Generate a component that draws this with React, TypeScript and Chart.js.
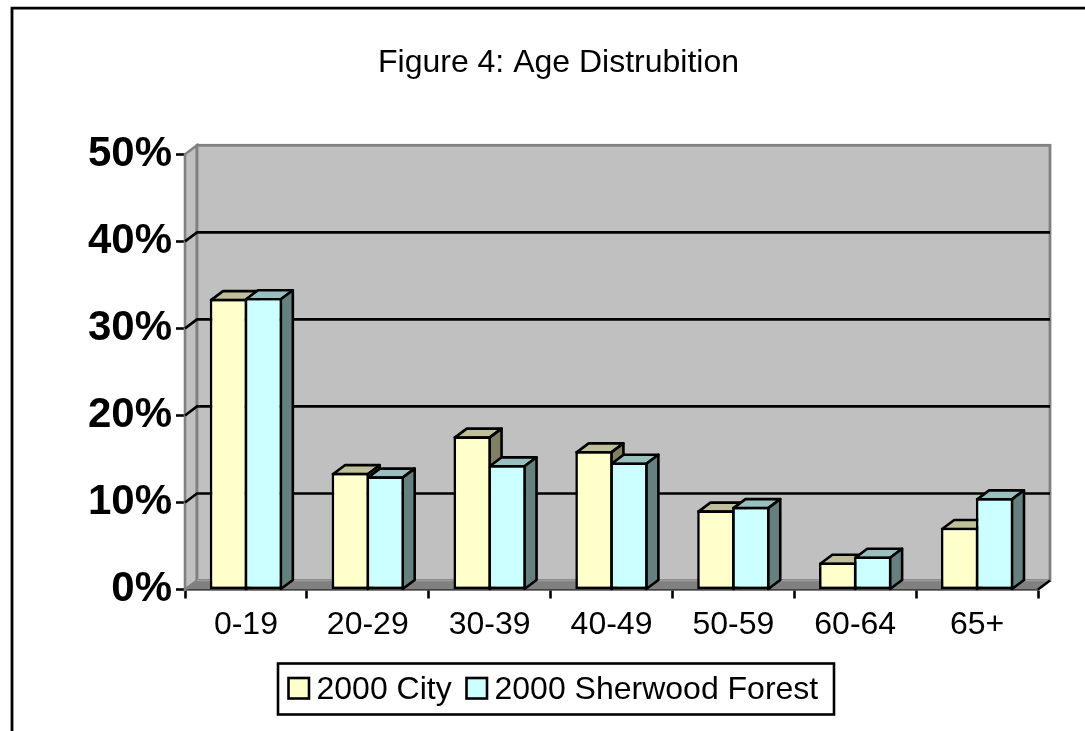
import React, { useEffect, useRef } from "react";
import { Chart, registerables } from "chart.js";

Chart.register(...registerables);

const categories = ["0-19", "20-29", "30-39", "40-49", "50-59", "60-64", "65+"];
const cityValues = [33.4, 13.4, 17.6, 15.9, 9.1, 3.1, 7.1];
const sherwoodValues = [33.5, 13.0, 14.3, 14.6, 9.5, 3.8, 10.5];
const seriesNames = ["2000 City", "2000 Sherwood Forest"];
const titleText = "Figure 4: Age Distrubition";

const FONT = '"Liberation Sans", Arial, sans-serif';
const DX = 12;
const DY = 9;
const LINE = 2.6;

const depthColors = [
  { top: "#BFBF99", side: "#808066" },
  { top: "#99BFBF", side: "#668080" },
];

const scene3d = {
  id: "scene3d",
  beforeDatasetsDraw(chart: any) {
    const { ctx, chartArea: a, scales } = chart;
    const y = scales.y;
    const zero = y.getPixelForValue(0);
    const top = y.getPixelForValue(50);
    ctx.save();
    // frame
    ctx.strokeStyle = "#000";
    ctx.lineWidth = 2.8;
    ctx.beginPath();
    ctx.moveTo(12, 731);
    ctx.lineTo(12, 8.2);
    ctx.lineTo(1085, 8.2);
    ctx.stroke();
    // side wall
    ctx.fillStyle = "#C0C0C0";
    ctx.beginPath();
    ctx.moveTo(a.left, zero);
    ctx.lineTo(a.left + DX, zero - DY);
    ctx.lineTo(a.left + DX, top - DY);
    ctx.lineTo(a.left, top);
    ctx.closePath();
    ctx.fill();
    ctx.strokeStyle = "#808080";
    ctx.lineWidth = 2.6;
    ctx.stroke();
    // back wall
    ctx.fillStyle = "#C0C0C0";
    ctx.fillRect(a.left + DX, top - DY, a.right - a.left, zero - top);
    ctx.lineWidth = 2.8;
    ctx.strokeRect(a.left + DX, top - DY, a.right - a.left, zero - top);
    // floor
    ctx.fillStyle = "#808080";
    ctx.beginPath();
    ctx.moveTo(a.left, zero);
    ctx.lineTo(a.left + DX, zero - DY);
    ctx.lineTo(a.right + DX, zero - DY);
    ctx.lineTo(a.right, zero);
    ctx.closePath();
    ctx.fill();
    // lighter seam where the back wall meets the floor
    ctx.strokeStyle = "#9C9C9C";
    ctx.lineWidth = 1.5;
    ctx.beginPath();
    ctx.moveTo(a.left + DX, zero - DY);
    ctx.lineTo(a.right + DX, zero - DY);
    ctx.stroke();
    // gridlines across back wall and side wall
    ctx.strokeStyle = "#000";
    ctx.lineWidth = LINE;
    y.ticks.forEach((t: any) => {
      if (t.value === 0 || t.value === 50) return;
      const py = y.getPixelForValue(t.value);
      ctx.beginPath();
      ctx.moveTo(a.left, py);
      ctx.lineTo(a.left + DX, py - DY);
      ctx.lineTo(a.right + DX, py - DY);
      ctx.stroke();
    });
    // floor corner edge
    ctx.beginPath();
    ctx.moveTo(a.right, zero);
    ctx.lineTo(a.right + DX, zero - DY);
    ctx.stroke();
    // bar depth faces, first series behind the second
    ctx.strokeStyle = "#000";
    ctx.lineJoin = "round";
    [0, 1].forEach((di) => {
      const meta = chart.getDatasetMeta(di);
      meta.data.forEach((bar: any) => {
        const l = bar.x - bar.width / 2 + 1.3;
        const r = bar.x + bar.width / 2 - 1.3;
        const t = bar.y + 1.3;
        const b = bar.base;
        ctx.fillStyle = depthColors[di].top;
        ctx.beginPath();
        ctx.moveTo(l, t);
        ctx.lineTo(l + DX, t - DY);
        ctx.lineTo(r + DX, t - DY);
        ctx.lineTo(r, t);
        ctx.closePath();
        ctx.fill();
        ctx.stroke();
        ctx.fillStyle = depthColors[di].side;
        ctx.beginPath();
        ctx.moveTo(r, t);
        ctx.lineTo(r + DX, t - DY);
        ctx.lineTo(r + DX, b - DY);
        ctx.lineTo(r, b);
        ctx.closePath();
        ctx.fill();
        ctx.stroke();
      });
    });
    ctx.restore();
  },
  afterDraw(chart: any) {
    const { ctx } = chart;
    ctx.save();
    // legend
    ctx.fillStyle = "#fff";
    ctx.strokeStyle = "#000";
    ctx.lineWidth = LINE;
    ctx.fillRect(278, 663.5, 556, 51);
    ctx.strokeRect(278, 663.5, 556, 51);
    ctx.font = `32px ${FONT}`;
    ctx.textBaseline = "middle";
    ctx.textAlign = "left";
    const items = [
      { sx: 288.5, tx: 316.5 },
      { sx: 466.5, tx: 494.5 },
    ];
    items.forEach((it, i) => {
      ctx.fillStyle = chart.data.datasets[i].backgroundColor;
      ctx.fillRect(it.sx, 678, 20.5, 20.5);
      ctx.strokeStyle = "#000";
      ctx.strokeRect(it.sx, 678, 20.5, 20.5);
      ctx.fillStyle = "#000";
      ctx.fillText(seriesNames[i], it.tx, 690);
    });
    ctx.restore();
  },
};

export default function App() {
  const ref = useRef<HTMLCanvasElement>(null);
  useEffect(() => {
    const chart = new Chart(ref.current as HTMLCanvasElement, {
      type: "bar",
      data: {
        labels: categories,
        datasets: [
          {
            label: seriesNames[0],
            data: cityValues,
            backgroundColor: "#FFFFCC",
            borderColor: "#000",
            borderWidth: LINE,
            borderSkipped: false,
            categoryPercentage: 0.574,
            barPercentage: 1.07,
          },
          {
            label: seriesNames[1],
            data: sherwoodValues,
            backgroundColor: "#CCFFFF",
            borderColor: "#000",
            borderWidth: LINE,
            borderSkipped: false,
            categoryPercentage: 0.574,
            barPercentage: 1.07,
          },
        ],
      },
      options: {
        responsive: false,
        animation: false,
        devicePixelRatio: 1,
        layout: { padding: { left: 79, right: 47, top: 0, bottom: 0 } },
        plugins: {
          legend: { display: false },
          tooltip: { enabled: false },
          title: {
            display: true,
            text: titleText,
            color: "#000",
            font: { family: FONT, size: 32, weight: "normal" },
            padding: { top: 43.5, bottom: 72.4 },
          },
        },
        scales: {
          x: {
            afterFit(scale: any) {
              scale.height = 141.5;
            },
            border: { color: "#000", width: LINE },
            grid: {
              drawOnChartArea: false,
              drawTicks: true,
              tickLength: 9,
              tickColor: "#000",
              tickWidth: LINE,
            },
            ticks: {
              color: "#000",
              padding: 7,
              maxRotation: 0,
              font: { family: FONT, size: 32 },
            },
          },
          y: {
            min: 0,
            max: 50,
            afterFit(scale: any) {
              scale.width = 106;
            },
            border: { color: "#000", width: LINE },
            grid: {
              drawOnChartArea: false,
              drawTicks: true,
              tickLength: 9,
              tickColor: "#000",
              tickWidth: LINE,
            },
            ticks: {
              stepSize: 10,
              color: "#000",
              padding: 4,
              font: { family: FONT, size: 42, weight: "bold" },
              callback: (v: any) => `${v}%`,
            },
          },
        },
      },
      plugins: [scene3d],
    } as any);
    return () => chart.destroy();
  }, []);
  return (
    <canvas
      ref={ref}
      width={1085}
      height={731}
      style={{ position: "fixed", left: 0, top: 0, display: "block" }}
    />
  );
}
